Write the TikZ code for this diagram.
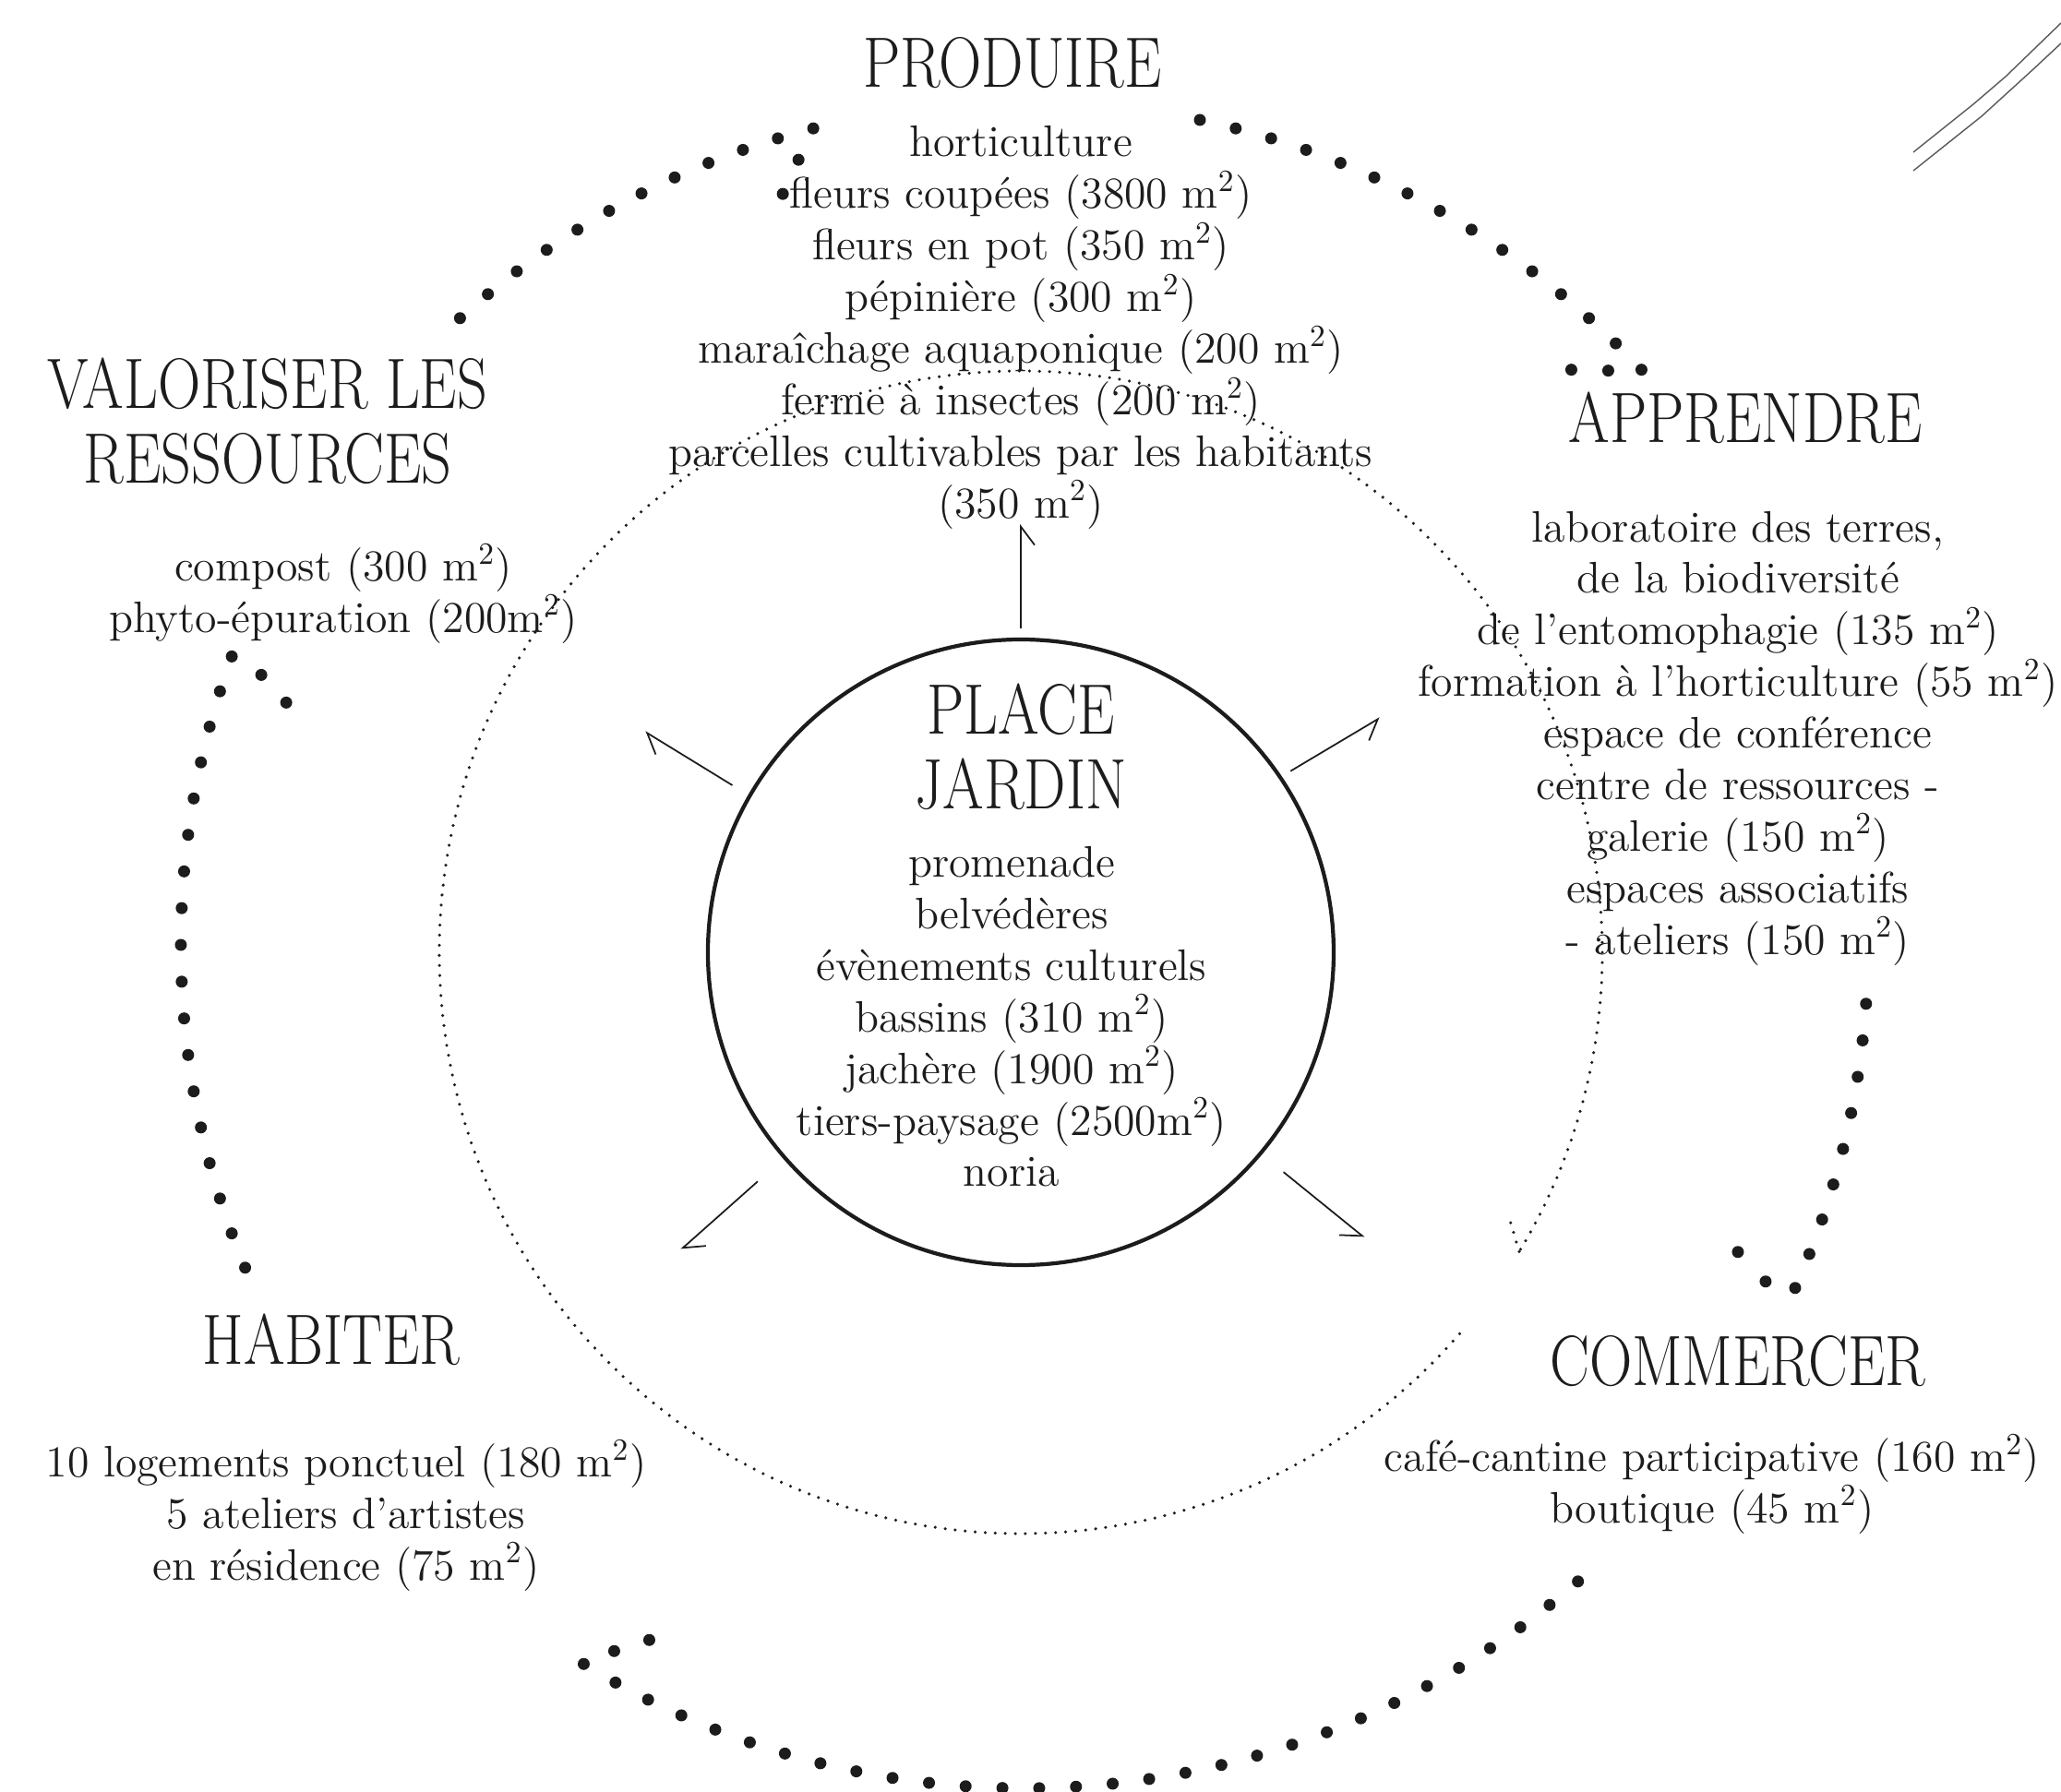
\documentclass[tikz,border=0pt]{standalone}
\usepackage{fontspec}
\usepackage{graphicx}
\usetikzlibrary{arrows.meta}
\definecolor{ink}{HTML}{1C1C1C}
\newcommand\bodyfont{\fontsize{13.6}{15.9}\selectfont}
\newcommand\titlefont{\fontsize{22}{23}\selectfont}
\newcommand\titleline[1]{\scalebox{0.83}[1]{#1}}
\newcommand\msq{m\textsuperscript{2}}
\tikzset{
  sectiontitle/.style={font=\titlefont,text=ink,align=center,inner sep=0pt},
  sectionlist/.style={font=\bodyfont,text=ink,align=center,inner sep=0pt},
  spoke/.style={draw=ink,line width=0.5pt},
  spokeleft/.style={spoke,-{Straight Barb[length=2mm,width=3mm,left]}},
  spokeright/.style={spoke,-{Straight Barb[length=2mm,width=3mm,right]}},
  thindots/.style={draw=ink,line width=1pt,line cap=round,dash pattern=on 0pt off 3.1pt},
  bigdot/.style={fill=ink},
  cornerline/.style={draw=black!65,line width=0.4pt}
}
\begin{document}
\begin{tikzpicture}
    \useasboundingbox (-11.06,-9.10) rectangle (11.27,10.32);
    \coordinate (hub) at (0,0);

    \node[draw=ink,line width=1.2pt,circle,minimum size=6.78cm,inner sep=0pt] (jardin) at (hub) {};
    \node[sectiontitle] (jardintitle) at (0,2.23) {\titleline{PLACE}\\\titleline{JARDIN}};
    \node[sectionlist] (jardinlist) at (-0.1,-0.70) {promenade\\belvédères\\évènements culturels\\bassins (310 \msq)\\jachère (1900 \msq)\\tiers-paysage (2500\msq)\\noria};

    \node[sectiontitle] (produire) at (-0.09,9.64) {\titleline{PRODUIRE}};
    \node[sectionlist] (produirelist) at (0,6.77) {horticulture\\fleurs coupées (3800 \msq)\\fleurs en pot (350 \msq)\\pépinière (300 \msq)\\maraîchage aquaponique (200 \msq)\\ferme à insectes (200 \msq)\\parcelles cultivables par les habitants\\(350 \msq)};

    \node[sectiontitle] (valoriser) at (-8.16,5.76) {\titleline{VALORISER LES}\\\titleline{RESSOURCES}};
    \node[sectionlist] (valoriserlist) at (-7.34,3.89) {compost (300 \msq)\\phyto-épuration (200\msq)};

    \node[sectiontitle] (apprendre) at (7.85,5.79) {\titleline{APPRENDRE}};
    \node[sectionlist] (apprendrelist) at (7.77,2.32) {laboratoire des terres,\\de la biodiversité\\de l’entomophagie (135 \msq)\\formation à l’horticulture (55 \msq)\\espace de conférence\\centre de ressources -\\galerie (150 \msq)\\espaces associatifs\\- ateliers (150 \msq)};

    \node[sectiontitle] (habiter) at (-7.47,-4.20) {\titleline{HABITER}};
    \node[sectionlist] (habiterlist) at (-7.31,-6.10) {10 logements ponctuel (180 \msq)\\5 ateliers d’artistes\\en résidence (75 \msq)};

    \node[sectiontitle] (commercer) at (7.77,-4.43) {\titleline{COMMERCER}};
    \node[sectionlist] (commercerlist) at (7.49,-5.76) {café-cantine participative (160 \msq)\\boutique (45 \msq)};

    % spokes from the central place
    \coordinate (tipN) at (0,4.64);
    \coordinate (tipNW) at (-4.07,2.39);
    \coordinate (tipNE) at (3.89,2.54);
    \coordinate (tipSW) at (-3.68,-3.22);
    \coordinate (tipSE) at (3.72,-3.09);
    \draw[spokeright,shorten <=0.10cm] (jardin.90) -- (tipN);
    \draw[spokeleft,shorten <=0.20cm] (jardin.150) -- (tipNW);
    \draw[spokeright,shorten <=0.11cm] (jardin.34) -- (tipNE);
    \draw[spokeleft,shorten <=0.37cm] (jardin.221) -- (tipSW);
    \draw[spokeright,shorten <=0.30cm] (jardin.320) -- (tipSE);

    % inner ring
    \coordinate (ringtip) at (-31:6.3);
    \draw[thindots] (-41:6.3) arc[start angle=-41,end angle=-391,radius=6.3];
    \draw[thindots] (ringtip) -- ++(-0.10,0.34);

    % outer cycle
    \begin{scope}[shift={(0.04,0.08)}]
    \foreach \i in {0,...,11} \fill[bigdot] ({132-2.5*\i}:9.14) circle[radius=0.065];
    \foreach \i in {0,...,14} \fill[bigdot] ({78-2.5*\i}:9.14) circle[radius=0.065];
    \foreach \i in {0,...,8} \fill[bigdot] ({-4-2.5*\i}:9.14) circle[radius=0.065];
    \foreach \i in {0,...,29} \fill[bigdot] ({-49-2.5*\i}:9.14) circle[radius=0.065];
    \foreach \i in {0,...,17} \fill[bigdot] ({202.5-2.5*\i}:9.14) circle[radius=0.065];
    \coordinate (tipTL) at (104.5:9.14);
    \coordinate (tipTR) at (43:9.14);
    \coordinate (tipR) at (-24:9.14);
    \coordinate (tipB) at (-121.5:9.14);
    \coordinate (tipL) at (160:9.14);
    \end{scope}
    \fill[bigdot] (tipTL) ++(-0.16,-0.34) circle[radius=0.065] ++(-0.17,-0.37) circle[radius=0.065];
    \fill[bigdot] (tipTR) ++(-0.36,-0.01) circle[radius=0.065] ++(-0.40,0.01) circle[radius=0.065];
    \fill[bigdot] (tipR) ++(-0.32,0.07) circle[radius=0.065] ++(-0.30,0.32) circle[radius=0.065];
    \fill[bigdot] (tipB) ++(0.33,0.14) circle[radius=0.065] ++(0.38,0.12) circle[radius=0.065];
    \fill[bigdot] (tipL) ++(0.32,-0.20) circle[radius=0.065] ++(0.27,-0.30) circle[radius=0.065];

    % corner strokes
    \draw[cornerline] (9.67,8.67) -- (10.32,9.19) -- (10.67,9.49) -- (11.27,10.07);
    \draw[cornerline] (9.67,8.47) -- (10.41,9.06) -- (10.97,9.57) -- (11.27,9.85);
\end{tikzpicture}
\end{document}
